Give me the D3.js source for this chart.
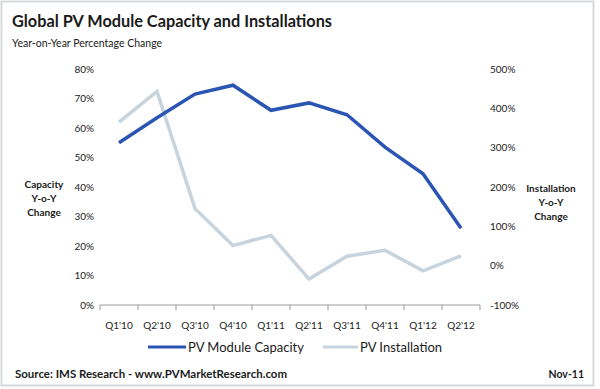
<!DOCTYPE html>
<html>
<head>
<meta charset="utf-8">
<script src="https://cdn.jsdelivr.net/npm/d3@7"></script>
<style>
  body { margin: 0; background: #fff; }
  text { font-family: Lato, "Open Sans", sans-serif; }
</style>
</head>
<body>
<svg id="chart" width="600" height="389"></svg>
<script>
var quarters = ["Q1'10", "Q2'10", "Q3'10", "Q4'10", "Q1'11", "Q2'11", "Q3'11", "Q4'11", "Q1'12", "Q2'12"];
var capacity = [55, 63.5, 71.5, 74.5, 66, 68.5, 64.5, 53.5, 44.5, 26];
var installation = [365, 443, 145, 51, 77, -34, 24, 39, -13, 25];
var leftTicks = [0, 10, 20, 30, 40, 50, 60, 70, 80];
var rightTicks = [-100, 0, 100, 200, 300, 400, 500];

var svg = d3.select("#chart"),
    margin = {top: 69, right: 120, bottom: 84, left: 100},
    width = +svg.attr("width") - margin.left - margin.right,
    height = +svg.attr("height") - margin.top - margin.bottom;

// frame
svg.append("rect")
    .attr("x", 1.5).attr("y", 1.5)
    .attr("width", 592).attr("height", 384)
    .attr("fill", "#fff")
    .attr("stroke", "#d6d9dc")
    .attr("stroke-width", 2);

svg.append("text")
    .attr("x", 12).attr("y", 27)
    .attr("font-size", 17.5).attr("font-weight", "bold")
    .attr("fill", "#1a1a1a")
    .attr("textLength", 320).attr("lengthAdjust", "spacingAndGlyphs")
    .text("Global PV Module Capacity and Installations");

svg.append("text")
    .attr("x", 12).attr("y", 47)
    .attr("font-size", 10.5).attr("fill", "#1a1a1a")
    .text("Year-on-Year Percentage Change");

var g = svg.append("g").attr("transform", "translate(" + margin.left + "," + margin.top + ")");

var x = d3.scaleBand().domain(quarters).range([0, width]);
var yL = d3.scaleLinear().domain([0, 80]).range([height, 0]);
var yR = d3.scaleLinear().domain([-100, 500]).range([height, 0]);

var fmt = function(d) { return d + "%"; };

g.append("g")
    .attr("class", "axis")
    .call(d3.axisLeft(yL).tickValues(leftTicks).tickFormat(fmt).tickSize(0).tickPadding(6))
    .call(a => a.select(".domain").remove());

g.append("g")
    .attr("class", "axis")
    .attr("transform", "translate(" + (width + 10) + ",0)")
    .call(d3.axisRight(yR).tickValues(rightTicks).tickFormat(fmt).tickSize(0).tickPadding(0))
    .call(a => a.select(".domain").remove());

var xAxis = g.append("g")
    .attr("class", "axis")
    .attr("transform", "translate(0," + height + ")");
xAxis.append("line")
    .attr("x1", 0).attr("x2", width)
    .attr("stroke", "#9a9a9a");
xAxis.selectAll(".tk")
    .data(d3.range(quarters.length + 1))
    .enter().append("line")
    .attr("x1", function(i) { return i * x.bandwidth(); })
    .attr("x2", function(i) { return i * x.bandwidth(); })
    .attr("y1", 0).attr("y2", 5)
    .attr("stroke", "#9a9a9a");
xAxis.selectAll(".lbl")
    .data(quarters)
    .enter().append("text")
    .attr("x", function(d) { return x(d) + x.bandwidth() / 2; })
    .attr("y", 24)
    .attr("text-anchor", "middle")
    .attr("font-size", 10)
    .attr("fill", "#222")
    .text(function(d) { return d; });

g.selectAll(".axis text").attr("font-size", 10).attr("fill", "#222");

var cx = function(d, i) { return x(quarters[i]) + x.bandwidth() / 2; };

g.append("path")
    .datum(installation)
    .attr("fill", "none")
    .attr("stroke", "#c7d4dd")
    .attr("stroke-width", 3.5)
    .attr("d", d3.line().x(cx).y(function(d) { return yR(d); }));

g.append("path")
    .datum(capacity)
    .attr("fill", "none")
    .attr("stroke", "#2b55b3")
    .attr("stroke-width", 3.5)
    .attr("d", d3.line().x(cx).y(function(d) { return yL(d); }));

// axis titles
function multiline(xp, yp, lines) {
    var t = svg.append("text")
        .attr("x", xp).attr("y", yp)
        .attr("text-anchor", "middle")
        .attr("font-size", 10).attr("font-weight", "bold")
        .attr("fill", "#1a1a1a");
    lines.forEach(function(l, i) {
        t.append("tspan").attr("x", xp).attr("dy", i ? 14 : 0).text(l);
    });
}
multiline(44, 188, ["Capacity", "Y-o-Y", "Change"]);
multiline(551, 192, ["Installation", "Y-o-Y", "Change"]);

// legend
var legend = [
    {name: "PV Module Capacity", color: "#2b55b3", x: 148, len: 38},
    {name: "PV Installation", color: "#c7d4dd", x: 323, len: 35}
];
var lg = svg.selectAll(".legend").data(legend).enter().append("g");
lg.append("line")
    .attr("x1", function(d) { return d.x; })
    .attr("x2", function(d) { return d.x + d.len; })
    .attr("y1", 347).attr("y2", 347)
    .attr("stroke", function(d) { return d.color; })
    .attr("stroke-width", 3);
lg.append("text")
    .attr("x", function(d) { return d.x + d.len + 2; })
    .attr("y", 352)
    .attr("font-size", 13)
    .attr("fill", "#1a1a1a")
    .text(function(d) { return d.name; });

svg.append("text")
    .attr("x", 15).attr("y", 378)
    .attr("font-size", 11).attr("font-weight", "bold")
    .attr("fill", "#1a1a1a")
    .attr("textLength", 272).attr("lengthAdjust", "spacingAndGlyphs")
    .text("Source: IMS Research - www.PVMarketResearch.com");

svg.append("text")
    .attr("x", 584).attr("y", 378)
    .attr("text-anchor", "end")
    .attr("font-size", 10.5).attr("font-weight", "bold")
    .attr("fill", "#1a1a1a")
    .text("Nov-11");
</script>
</body>
</html>
